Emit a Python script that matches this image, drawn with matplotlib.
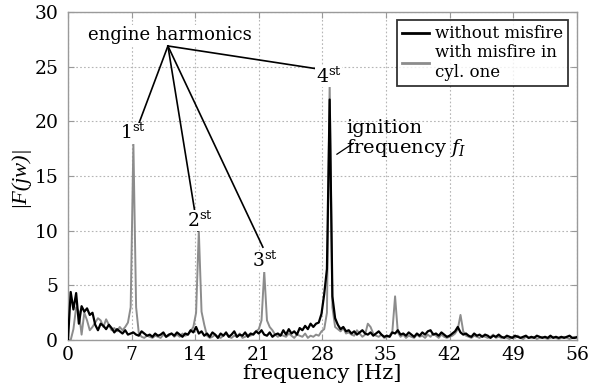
import numpy as np
import matplotlib
matplotlib.use('Agg')
import matplotlib.pyplot as plt

plt.rcParams['font.family'] = 'DejaVu Serif'
plt.rcParams['mathtext.fontset'] = 'custom'
plt.rcParams['mathtext.rm'] = 'DejaVu Serif'
plt.rcParams['mathtext.it'] = 'DejaVu Serif:italic'

# spectrum bins, 0.3 Hz apart
df_hz = 0.3
n_bins = 188

# |F(jw)| without misfire
no_misfire = [
    0.0, 4.4, 2.8, 4.3, 1.5, 3.1, 2.6, 2.9, 2.3, 2.5,
    1.4, 0.9, 1.5, 1.3, 1.0, 1.4, 1.1, 0.7, 1.0, 0.8,
    0.6, 0.9, 0.5, 0.6, 0.7, 0.5, 0.4, 0.8, 0.6, 0.4,
    0.5, 0.3, 0.6, 0.4, 0.5, 0.7, 0.3, 0.5, 0.6, 0.4,
    0.7, 0.5, 0.3, 0.6, 0.5, 0.9, 0.7, 1.2, 0.6, 0.8,
    0.4, 0.6, 0.3, 0.7, 0.5, 0.2, 0.6, 0.4, 0.7, 0.3,
    0.5, 0.8, 0.3, 0.5, 0.4, 0.7, 0.3, 0.6, 0.5, 0.8,
    0.6, 0.9, 0.5, 0.4, 0.7, 0.3, 0.5, 0.6, 0.4, 0.9,
    0.5, 1.0, 0.6, 0.8, 0.5, 1.1, 0.9, 1.3, 1.0, 1.5,
    1.2, 1.5, 1.6, 2.4, 4.2, 6.5, 22.0, 4.0, 2.0, 1.4,
    1.0, 1.2, 0.8, 0.9, 0.6, 0.8, 0.5, 0.7, 0.9, 0.6,
    0.5, 0.7, 0.4, 0.6, 0.8, 0.5, 0.3, 0.4, 0.3, 0.7,
    0.6, 0.9, 0.5, 0.6, 0.4, 0.7, 0.5, 0.3, 0.6, 0.4,
    0.7, 0.5, 0.8, 0.9, 0.5, 0.6, 0.4, 0.7, 0.5, 0.3,
    0.4, 0.6, 0.8, 1.2, 0.7, 0.5, 0.6, 0.4, 0.3, 0.6,
    0.4, 0.5, 0.3, 0.5, 0.4, 0.2, 0.4, 0.3, 0.5, 0.3,
    0.2, 0.4, 0.3, 0.2, 0.4, 0.3, 0.2, 0.3, 0.4, 0.2,
    0.3, 0.2, 0.4, 0.3, 0.2, 0.3, 0.2, 0.4, 0.2, 0.3,
    0.2, 0.3, 0.2, 0.3, 0.4, 0.2, 0.2, 0.3,
]

# |F(jw)| with misfire in cylinder one
misfire = [
    0.0, 0.0, 1.0, 3.0, 2.6, 0.5, 2.5, 1.8, 0.9, 1.2,
    1.6, 2.0, 1.8, 1.2, 1.9, 1.4, 0.9, 1.1, 0.8, 1.2,
    0.9, 1.2, 1.6, 3.0, 18.0, 3.0, 0.6, 0.3, 0.2, 0.4,
    0.3, 0.2, 0.4, 0.3, 0.2, 0.5, 0.3, 0.4, 0.6, 0.3,
    0.5, 0.3, 0.6, 0.4, 0.5, 0.8, 1.2, 2.5, 10.0, 2.6,
    1.4, 0.4, 0.2, 0.3, 0.5, 0.3, 0.2, 0.4, 0.6, 0.3,
    0.2, 0.4, 0.3, 0.6, 0.2, 0.3, 0.5, 0.4, 0.6, 0.8,
    1.0, 1.8, 6.3, 1.8, 1.2, 0.9, 0.5, 0.3, 0.5, 0.4,
    0.3, 0.6, 0.4, 0.2, 0.5, 0.4, 0.3, 0.6, 0.2, 0.4,
    0.3, 0.5, 0.4, 0.8, 1.0, 2.5, 23.5, 3.0, 1.2, 1.0,
    0.8, 1.1, 0.6, 0.7, 0.5, 0.4, 0.9, 0.6, 0.3, 0.5,
    1.5, 1.2, 0.6, 0.4, 0.3, 0.5, 0.2, 0.3, 0.4, 0.8,
    4.0, 0.7, 0.3, 0.5, 0.2, 0.4, 0.3, 0.2, 0.5, 0.3,
    0.4, 0.2, 0.5, 0.3, 0.6, 0.4, 0.2, 0.5, 0.3, 0.2,
    0.3, 0.4, 0.6, 1.0, 2.3, 0.8, 0.4, 0.3, 0.2, 0.4,
    0.3, 0.2, 0.4, 0.3, 0.2, 0.3, 0.5, 0.2, 0.3, 0.2,
    0.3, 0.2, 0.1, 0.3, 0.2, 0.4, 0.2, 0.1, 0.3, 0.2,
    0.2, 0.3, 0.1, 0.2, 0.3, 0.2, 0.1, 0.2, 0.3, 0.2,
    0.1, 0.2, 0.3, 0.2, 0.1, 0.2, 0.3, 0.2,
]

x_ticks = [0, 7, 14, 21, 28, 35, 42, 49, 56]
y_ticks = [0, 5, 10, 15, 20, 25, 30]

# harmonic labels: (text, x, y) and where their pointer lines end
harmonic_labels = [('1', 7.15, 18.9), ('2', 14.5, 10.9), ('3', 21.7, 7.2), ('4', 28.7, 24.1)]
pointer_ends = [(7.8, 19.8), (14.3, 10.0), (21.45, 8.5), (27.5, 24.8)]
hub = (11.0, 26.9)

freq = np.arange(n_bins) * df_hz

fig = plt.figure(figsize=(5.91, 3.90), dpi=100)
ax = fig.add_axes([0.115, 0.128, 0.861, 0.841])

ax.plot(freq, misfire, color='#8c8c8c', lw=1.4, label='with misfire in\ncyl. one', zorder=3)
ax.plot(freq, no_misfire, color='black', lw=1.6, label='without misfire', zorder=4)

ax.set_xlim(0, 56)
ax.set_ylim(0, 30)
ax.set_xticks(x_ticks)
ax.set_yticks(y_ticks)
ax.tick_params(labelsize=13.5, direction='in', length=4, color='#999999',
               top=True, right=True)
ax.tick_params(axis='y', pad=7)
ax.tick_params(axis='x', pad=4)
ax.grid(True, color='#b5b5b5', linestyle=(0, (1.5, 2)), lw=0.8)
for s in ax.spines.values():
    s.set_color('#9a9a9a')
    s.set_linewidth(1.0)

ax.set_xlabel('frequency [Hz]', fontsize=15, labelpad=0)
ax.set_ylabel('|F(jw)|', fontsize=16, family='Liberation Serif', style='italic', labelpad=4)

# engine harmonics pointers
ax.text(11.2, 27.9, 'engine harmonics', fontsize=13, ha='center', va='center',
        bbox=dict(facecolor='white', edgecolor='none', pad=0.5), zorder=5)
for (xe, ye) in pointer_ends:
    ax.plot([hub[0], xe], [hub[1], ye], color='black', lw=1.2, zorder=5)
for txt, xl, yl in harmonic_labels:
    ax.text(xl, yl, txt + r'$^{\rm st}$', fontsize=13.5, ha='center', va='center',
            bbox=dict(facecolor='white', edgecolor='none', pad=0.3), zorder=6)

ax.text(30.6, 18.4, 'ignition\nfrequency $f_I$', fontsize=14, ha='left', va='center',
        linespacing=1.0, zorder=6)
ax.plot([29.6, 31.4], [17.0, 18.0], color='black', lw=0.9, zorder=6)

handles, labels = ax.get_legend_handles_labels()
leg = ax.legend(handles[::-1], labels[::-1], loc='upper right', fontsize=12,
                frameon=True, fancybox=False, handlelength=1.6, handletextpad=0.4,
                borderpad=0.3, labelspacing=0.1, borderaxespad=0.5)
leg.get_frame().set_edgecolor('black')
leg.get_frame().set_linewidth(1.3)
for line in leg.get_lines():
    line.set_linewidth(2.0)

fig.savefig('out.png', dpi=100)
